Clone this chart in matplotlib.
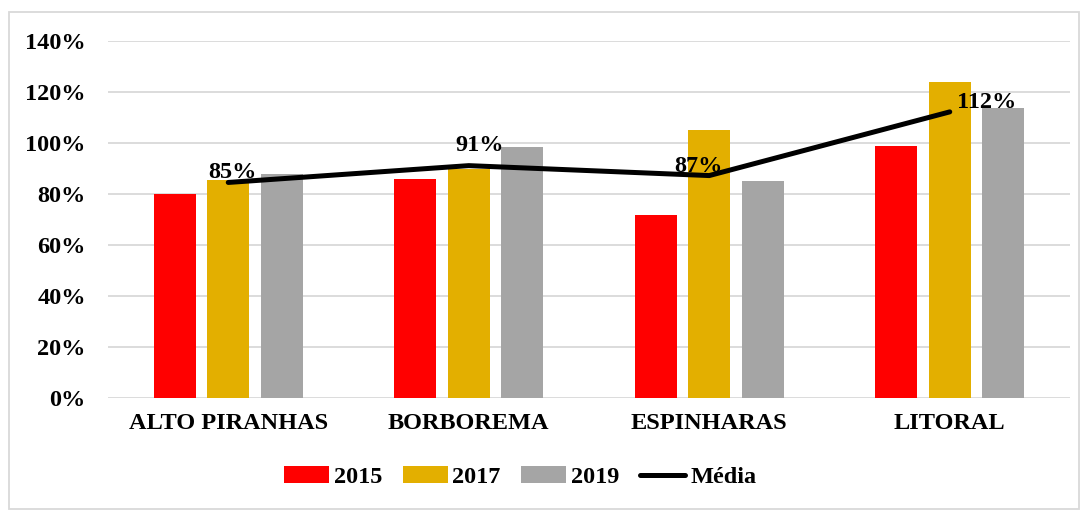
import matplotlib
matplotlib.use("Agg")
import matplotlib.pyplot as plt
import numpy as np
from matplotlib.patches import Rectangle

categories = ["ALTO PIRANHAS", "BORBOREMA", "ESPINHARAS", "LITORAL"]
v2015 = [0.80, 0.86, 0.72, 0.99]
v2017 = [0.856, 0.90, 1.05, 1.24]
v2019 = [0.879, 0.984, 0.85, 1.139]
media = [0.846, 0.912, 0.873, 1.123]
yticks = [0, 0.2, 0.4, 0.6, 0.8, 1.0, 1.2, 1.4]
series_names = ["2015", "2017", "2019", "Média"]

colors = ["#FF0000", "#E3AF00", "#A5A5A5"]
label_offsets = [(4, 10), (11, 20), (-11, 9), (37, 9)]
FS = 17.5

plt.rcParams["font.family"] = ["Liberation Serif", "DejaVu Serif"]
plt.rcParams["font.weight"] = "bold"

fig = plt.figure(figsize=(10.85, 5.12), dpi=100)
W, H = 1085, 512
ax = fig.add_axes([108 / W, (H - 398) / H, (1070 - 108) / W, (398 - 41.3) / H])

x = np.arange(len(categories))
bw = 0.175
off = 0.2225
b1 = ax.bar(x - off, v2015, bw, color=colors[0], label=series_names[0], zorder=2)
b2 = ax.bar(x, v2017, bw, color=colors[1], label=series_names[1], zorder=2)
b3 = ax.bar(x + off, v2019, bw, color=colors[2], label=series_names[2], zorder=2)
ln, = ax.plot(x, media, color="black", lw=3.6, solid_capstyle="round",
              solid_joinstyle="round", label=series_names[3], zorder=3)

for xi, m, (dx, dy) in zip(x, media, label_offsets):
    ax.annotate(f"{m:.0%}", (xi, m), xytext=(dx, dy), textcoords="offset pixels",
                ha="center", va="center", fontsize=FS, fontweight="bold", zorder=4)

ax.set_xlim(-0.5, len(categories) - 0.5)
ax.set_ylim(0, 1.4)
ax.set_yticks(yticks)
ax.set_yticklabels([f"{t:.0%}" for t in yticks])
ax.set_xticks(x)
ax.set_xticklabels(categories)
ax.tick_params(axis="y", length=0, pad=16, labelsize=FS)
ax.tick_params(axis="x", length=0, pad=11, labelsize=FS)
for s in ax.spines.values():
    s.set_visible(False)
ax.grid(axis="y", color="#D9D9D9", lw=1.3, zorder=0)
ax.set_axisbelow(True)
for lbl in ax.get_xticklabels() + ax.get_yticklabels():
    lbl.set_fontweight("bold")

fig.legend([b1, b2, b3, ln], series_names, loc="center",
           bbox_to_anchor=(520 / W, (H - 477) / H), ncol=4,
           frameon=False, handlelength=1.85, handletextpad=0.2,
           columnspacing=0.85, prop={"weight": "bold", "size": FS})

fig.patches.append(Rectangle((9 / W, (H - 509) / H), (1079 - 9) / W, (509 - 12) / H,
                             transform=fig.transFigure, fill=False,
                             edgecolor="#D9D9D9", lw=1.3, zorder=0))

fig.savefig("out.png", dpi=100)
